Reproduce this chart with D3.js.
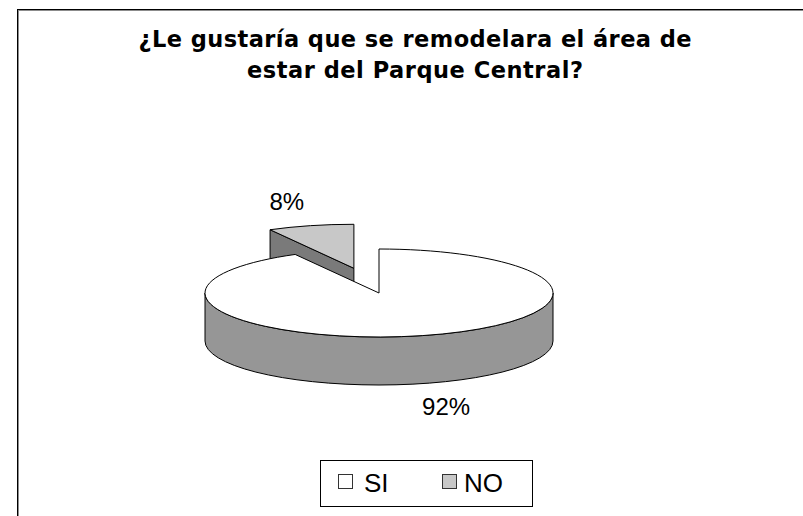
<!DOCTYPE html>
<html>
<head>
<meta charset="utf-8">
<script src="https://cdn.jsdelivr.net/npm/d3@7"></script>
<style>
  body { margin: 0; background: #fff; }
  svg { display: block; }
</style>
</head>
<body>
<script>
var categories = ['SI', 'NO'],
    values = [92, 8],
    valueLabels = ['92%', '8%'],
    titleLines = ['¿Le gustaría que se remodelara el área de', 'estar del Parque Central?'];

var width = 803,
    height = 516;

var cx = 379, cy = 293,   // pie centre on screen
    rx = 174, ry = 44,    // ellipse radii of the top face
    depth = 48,           // thickness of the pie
    explode = 0.58;       // how far the NO slice is pulled out

var topColors = ['#ffffff', '#c8c8c8'],
    sideColors = ['#969696', '#7a7a7a'];

var svg = d3.select('body').append('svg')
    .attr('width', width)
    .attr('height', height);

svg.append('rect')
    .attr('width', width)
    .attr('height', height)
    .attr('fill', '#fff');

// chart frame (runs off the right and bottom edges)
svg.append('rect')
    .attr('x', 18.5).attr('y', 10.5)
    .attr('width', 820).attr('height', 540)
    .attr('fill', 'none').attr('stroke', '#8c8c8c');
svg.append('rect')
    .attr('x', 17.5).attr('y', 9.5)
    .attr('width', 820).attr('height', 540)
    .attr('fill', 'none').attr('stroke', '#000');

// title
var titleWidths = [553, 336];
svg.append('text')
    .attr('text-anchor', 'middle')
    .attr('font-family', 'DejaVu Sans, Verdana, sans-serif')
    .attr('font-weight', 'bold')
    .attr('font-size', 22.5)
    .selectAll('tspan')
    .data(titleLines)
    .enter()
        .append('tspan')
        .attr('x', 415)
        .attr('y', (d, i) => 47 + i * 31)
        .attr('textLength', (d, i) => titleWidths[i])
        .attr('lengthAdjust', 'spacing')
        .text(d => d);

var pie = d3.pie().sort(null).startAngle(0).endAngle(2 * Math.PI);
var slices = pie(values);

// angle measured clockwise from 12 o'clock
function pt(a, ox, oy, dz) {
    return [ox + rx * Math.sin(a), oy - ry * Math.cos(a) + (dz || 0)];
}

function offset(d) {
    if (d.index !== 1) return [cx, cy];
    var mid = (d.startAngle + d.endAngle) / 2;
    return [cx + explode * rx * Math.sin(mid), cy - explode * ry * Math.cos(mid)];
}

function topPath(d) {
    var o = offset(d),
        p0 = pt(d.startAngle, o[0], o[1]),
        p1 = pt(d.endAngle, o[0], o[1]),
        large = (d.endAngle - d.startAngle) > Math.PI ? 1 : 0;
    return 'M' + o[0] + ',' + o[1] + 'L' + p0 + 'A' + rx + ',' + ry + ' 0 ' + large + ' 1 ' + p1 + 'Z';
}

// visible outer wall: front half only (pi/2 .. 3pi/2)
function wallPath(d) {
    var a0 = Math.max(d.startAngle, Math.PI / 2),
        a1 = Math.min(d.endAngle, 3 * Math.PI / 2);
    if (a1 <= a0) return null;
    var o = offset(d),
        t0 = pt(a0, o[0], o[1]), t1 = pt(a1, o[0], o[1]),
        b0 = pt(a0, o[0], o[1], depth), b1 = pt(a1, o[0], o[1], depth);
    return 'M' + t0 + 'A' + rx + ',' + ry + ' 0 0 1 ' + t1 +
        'L' + b1 + 'A' + rx + ',' + ry + ' 0 0 0 ' + b0 + 'Z';
}

// cut face at the start angle, seen when it faces the viewer
function cutPath(d) {
    if (Math.cos(d.startAngle - Math.PI / 2) >= 0) return null;
    var o = offset(d),
        p = pt(d.startAngle, o[0], o[1]),
        pb = pt(d.startAngle, o[0], o[1], depth);
    return 'M' + o[0] + ',' + o[1] + 'L' + p + 'L' + pb + 'L' + o[0] + ',' + (o[1] + depth) + 'Z';
}

var pieG = svg.append('g')
    .attr('stroke', '#000')
    .attr('stroke-width', 1)
    .attr('stroke-linejoin', 'round');

// draw back slice (NO) first, then SI
var order = [slices[1], slices[0]];
order.forEach(function(d) {
    var c = cutPath(d);
    if (c) pieG.append('path').attr('d', c).attr('fill', sideColors[d.index]);
    var w = wallPath(d);
    if (w) pieG.append('path').attr('d', w).attr('fill', sideColors[d.index]);
    pieG.append('path').attr('d', topPath(d)).attr('fill', topColors[d.index]);
});

// value labels
svg.append('g')
    .attr('font-family', 'Liberation Sans, Arial, sans-serif')
    .attr('font-size', 24)
    .attr('text-anchor', 'middle')
    .selectAll('text')
    .data(slices)
    .enter()
        .append('text')
        .attr('x', d => {
            var o = offset(d), mid = (d.startAngle + d.endAngle) / 2;
            return o[0] + 1.55 * rx * Math.sin(mid);
        })
        .attr('y', d => {
            var o = offset(d), mid = (d.startAngle + d.endAngle) / 2,
                y = o[1] - 1.55 * ry * Math.cos(mid);
            if (Math.cos(mid) < 0) y += depth;
            return y + 8;
        })
        .text((d, i) => valueLabels[i]);

// legend
var legend = svg.append('g');
legend.append('rect')
    .attr('x', 320.5).attr('y', 460.5)
    .attr('width', 212).attr('height', 46)
    .attr('fill', '#fff').attr('stroke', '#000');

var item = legend.selectAll('g.item')
    .data(categories)
    .enter()
        .append('g')
        .attr('class', 'item')
        .attr('transform', (d, i) => 'translate(' + (338 + i * 104) + ',0)');

item.append('rect')
    .attr('x', 0.5).attr('y', 474.5)
    .attr('width', 14).attr('height', 14)
    .attr('fill', (d, i) => topColors[i])
    .attr('stroke', '#333');

item.append('text')
    .attr('x', (d, i) => i === 0 ? 26 : 22)
    .attr('y', 492)
    .attr('font-family', 'Liberation Sans, Arial, sans-serif')
    .attr('font-size', 26)
    .text(d => d);
</script>
</body>
</html>
